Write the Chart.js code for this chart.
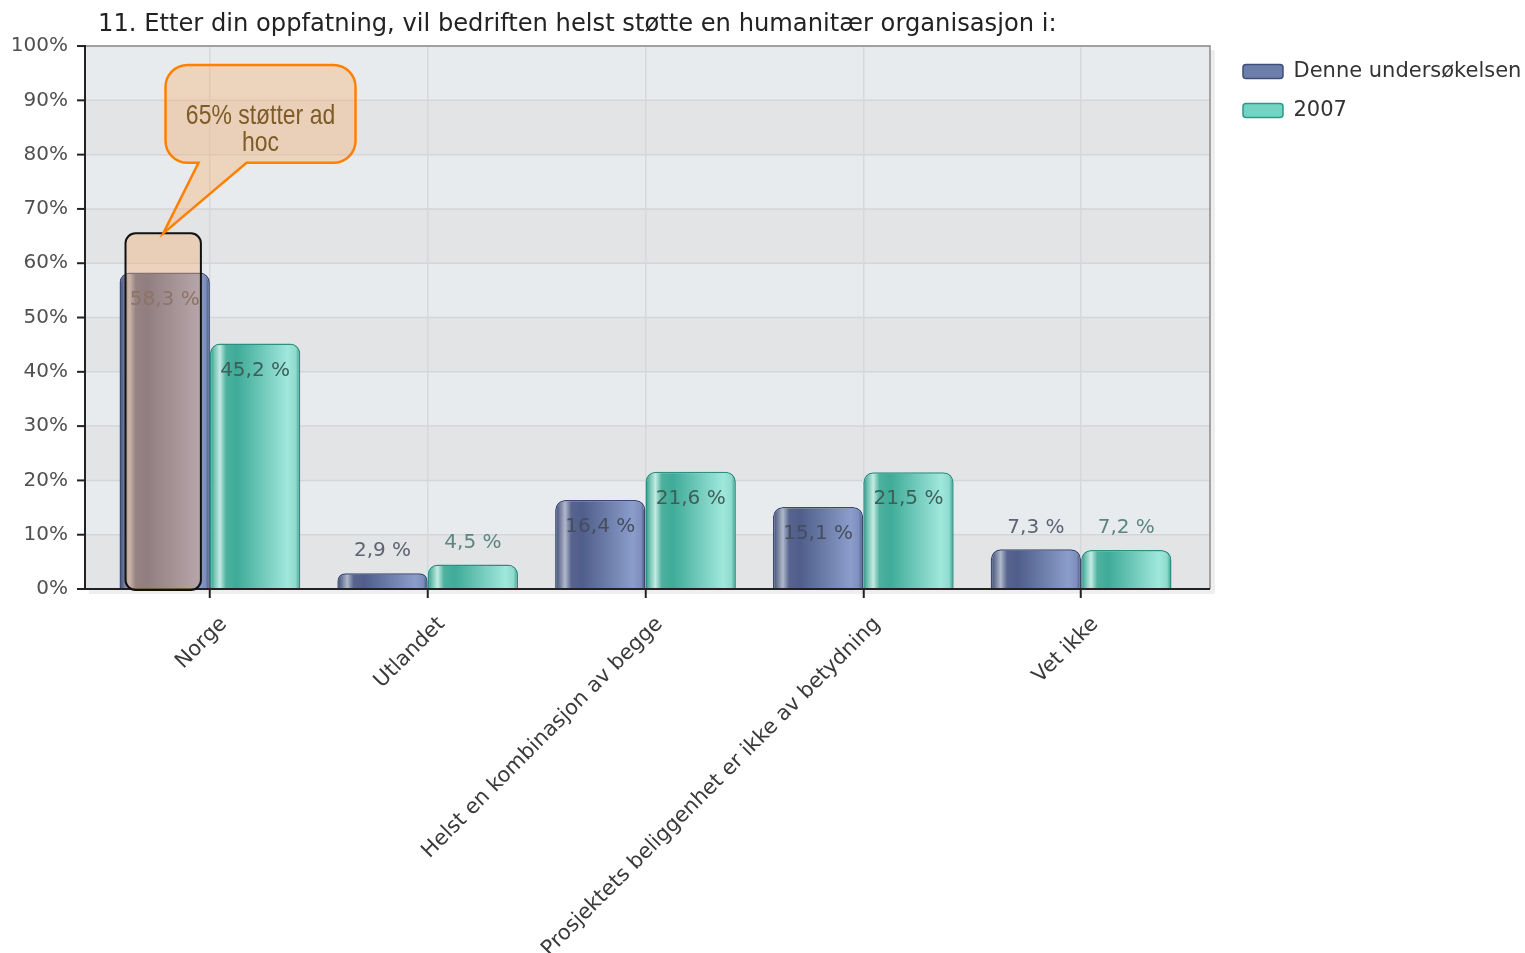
<!DOCTYPE html>
<html lang="no">
<head>
    <meta charset="UTF-8">
    <title>Humanitær organisasjon</title>
    <script src="https://cdn.jsdelivr.net/npm/chart.js"></script>
    <style>
        body {
            margin: 0;
            background: #fff;
        }
        canvas {
            display: block;
        }
    </style>
</head>
<body>
    <canvas id="myChart" width="1525" height="953"></canvas>

    <script>
        const chartTitle = '11. Etter din oppfatning, vil bedriften helst støtte en humanitær organisasjon i:';
        const categories = ['Norge', 'Utlandet', 'Helst en kombinasjon av begge', 'Prosjektets beliggenhet er ikke av betydning', 'Vet ikke'];
        const seriesNames = ['Denne undersøkelsen', '2007'];
        const thisSurvey = [58.3, 2.9, 16.4, 15.1, 7.3];
        const survey2007 = [45.2, 4.5, 21.6, 21.5, 7.2];
        const yTicks = [0, 10, 20, 30, 40, 50, 60, 70, 80, 90, 100];
        const noteLines = ['65% støtter ad', 'hoc'];
        const noteValue = 65.5;   // top of the highlight round the Norge bar

        const FONT = "'DejaVu Sans', Verdana, sans-serif";
        const CAT_PCT = 0.83;
        const legendFill = ['#6d7eaa', '#74d3c3'];
        const legendBorder = ['#3d4f7a', '#2a9a88'];

        // cylinder-like shading across each bar
        const blueStops = [[0, '#3b4a72'], [0.05, '#6f7a98'], [0.11, '#b0b8cb'], [0.18, '#58648e'],
                           [0.3, '#4f5e8a'], [0.86, '#8b9dcb'], [0.95, '#7e8fbe'], [1, '#3e4e78']];
        const greenStops = [[0, '#2b9483'], [0.05, '#74c4b4'], [0.11, '#c4ebe3'], [0.18, '#4db19e'],
                            [0.3, '#3fab98'], [0.86, '#a0e7dc'], [0.95, '#8edbce'], [1, '#2f9a88']];

        function barFill(c) {
            const chart = c.chart;
            const ds = c.datasetIndex;
            const xs = chart.scales.x;
            if (c.dataIndex === undefined || !xs || !chart.chartArea) {
                return legendFill[ds];
            }
            const catW = xs.width / categories.length;
            const barW = catW * CAT_PCT / 2;
            const cx = xs.getPixelForValue(c.dataIndex);
            const left = ds === 0 ? cx - barW : cx;
            const g = chart.ctx.createLinearGradient(left, 0, left + barW, 0);
            (ds === 0 ? blueStops : greenStops).forEach(s => g.addColorStop(s[0], s[1]));
            return g;
        }

        function roundedBox(ctx, x0, y0, x1, y1, r) {
            ctx.beginPath();
            ctx.moveTo(x0 + r, y0);
            ctx.lineTo(x1 - r, y0);
            ctx.arcTo(x1, y0, x1, y0 + r, r);
            ctx.lineTo(x1, y1 - r);
            ctx.arcTo(x1, y1, x1 - r, y1, r);
            ctx.lineTo(x0 + r, y1);
            ctx.arcTo(x0, y1, x0, y1 - r, r);
            ctx.lineTo(x0, y0 + r);
            ctx.arcTo(x0, y0, x0 + r, y0, r);
            ctx.closePath();
        }

        const plotFrame = {
            id: 'plotFrame',
            afterLayout(chart) {
                // title and legend sit a bit in from where Chart.js puts them
                if (chart.titleBlock) chart.titleBlock.left += 98;
                const lg = chart.legend;
                if (lg) {
                    const dx = 1225 - lg.left;
                    const dy = 43 - lg.top;
                    lg.left += dx; lg.right += dx;
                    lg.top += dy; lg.bottom += dy;
                }
            },
            beforeDraw(chart) {
                const {ctx, chartArea: a} = chart;
                const y = chart.scales.y;
                const L = a.left - 16, R = a.right + 20;
                ctx.save();
                ctx.fillStyle = '#fff';
                ctx.fillRect(0, 0, chart.width, chart.height);
                // shadow
                ctx.fillStyle = '#eeeeee';
                ctx.fillRect(L + 4, a.bottom, R - L, 5);
                ctx.fillRect(R, a.top + 4, 5, a.bottom - a.top);
                for (let i = 0; i < yTicks.length - 1; i++) {
                    const y0 = y.getPixelForValue(yTicks[i]);
                    const y1 = y.getPixelForValue(yTicks[i + 1]);
                    ctx.fillStyle = i % 2 ? '#e8ebee' : '#e3e4e6';
                    ctx.fillRect(L, y1, R - L, y0 - y1);
                }
                ctx.strokeStyle = '#d3d5d8';
                ctx.lineWidth = 1.5;
                yTicks.forEach(v => {
                    const py = y.getPixelForValue(v);
                    ctx.beginPath(); ctx.moveTo(L, py); ctx.lineTo(R, py); ctx.stroke();
                });
                ctx.restore();
            },
            afterDatasetsDraw(chart) {
                const {ctx, chartArea: a} = chart;
                const y = chart.scales.y;
                const L = a.left - 16, R = a.right + 20;
                ctx.save();
                // frame
                ctx.strokeStyle = '#8c8c8c';
                ctx.lineWidth = 1.5;
                ctx.beginPath();
                ctx.moveTo(L, a.top); ctx.lineTo(R, a.top); ctx.lineTo(R, a.bottom);
                ctx.stroke();
                ctx.strokeStyle = '#222';
                ctx.lineWidth = 2;
                ctx.beginPath();
                ctx.moveTo(L, a.top - 1); ctx.lineTo(L, a.bottom); ctx.lineTo(R, a.bottom);
                ctx.stroke();
                yTicks.forEach(v => {
                    const py = y.getPixelForValue(v);
                    ctx.beginPath(); ctx.moveTo(L - 8, py); ctx.lineTo(L, py); ctx.stroke();
                });

                // value labels
                ctx.font = '20px ' + FONT;
                ctx.textAlign = 'center';
                ctx.textBaseline = 'middle';
                chart.data.datasets.forEach((ds, di) => {
                    chart.getDatasetMeta(di).data.forEach((bar, i) => {
                        const v = ds.data[i];
                        const inside = v >= 10;
                        const txt = v.toFixed(1).replace('.', ',') + ' %';
                        if (di === 0) ctx.fillStyle = inside ? '#464d5f' : '#5c6374';
                        else ctx.fillStyle = inside ? '#3c5f5a' : '#5b8680';
                        ctx.fillText(txt, bar.x, inside ? bar.y + 27 : bar.y - 22);
                    });
                });

                // highlight round the Norge bar
                const nb = chart.getDatasetMeta(0).data[0];
                const hl0 = nb.x - nb.width / 2 + 6, hl1 = nb.x + nb.width / 2 - 9;
                const hlTop = y.getPixelForValue(noteValue);
                roundedBox(ctx, hl0, hlTop, hl1, a.bottom + 1, 10);
                ctx.fillStyle = 'rgba(246,176,114,0.4)';
                ctx.fill();
                ctx.strokeStyle = '#111';
                ctx.lineWidth = 2;
                ctx.stroke();

                // callout
                const bx0 = hl0 + 40, bx1 = hl0 + 230;
                const by0 = y.getPixelForValue(96.5), by1 = y.getPixelForValue(78.5);
                const r = 22;
                const tipX = (hl0 + hl1) / 2, tipY = hlTop;
                ctx.beginPath();
                ctx.moveTo(bx0 + r, by0);
                ctx.lineTo(bx1 - r, by0);
                ctx.arcTo(bx1, by0, bx1, by0 + r, r);
                ctx.lineTo(bx1, by1 - r);
                ctx.arcTo(bx1, by1, bx1 - r, by1, r);
                ctx.lineTo(bx0 + 81, by1);
                ctx.lineTo(tipX, tipY);
                ctx.lineTo(bx0 + 33, by1);
                ctx.lineTo(bx0 + r, by1);
                ctx.arcTo(bx0, by1, bx0, by1 - r, r);
                ctx.lineTo(bx0, by0 + r);
                ctx.arcTo(bx0, by0, bx0 + r, by0, r);
                ctx.closePath();
                ctx.fillStyle = 'rgba(246,178,116,0.4)';
                ctx.fill();
                ctx.strokeStyle = '#ff8000';
                ctx.lineWidth = 2.5;
                ctx.stroke();

                // narrow lettering: squeeze a regular sans horizontally
                ctx.fillStyle = '#7d5c27';
                ctx.font = "28px 'Liberation Sans', Arial, sans-serif";
                ctx.textAlign = 'center';
                ctx.textBaseline = 'alphabetic';
                const sx = 0.82;
                ctx.translate((bx0 + bx1) / 2, 0);
                ctx.scale(sx, 1);
                noteLines.forEach((line, k) => {
                    ctx.fillText(line, 0, by0 + 59 + k * 27);
                });
                ctx.restore();
            }
        };

        const ctx = document.getElementById('myChart').getContext('2d');
        new Chart(ctx, {
            type: 'bar',
            data: {
                labels: categories,
                datasets: [{
                    label: seriesNames[0],
                    data: thisSurvey,
                    backgroundColor: barFill,
                    borderColor: '#3a4a75'
                }, {
                    label: seriesNames[1],
                    data: survey2007,
                    backgroundColor: barFill,
                    borderColor: '#2a9080'
                }]
            },
            options: {
                responsive: false,
                animation: false,
                events: [],
                datasets: {
                    bar: {
                        categoryPercentage: CAT_PCT,
                        barPercentage: 1,
                        borderWidth: 1.5,
                        borderRadius: {topLeft: 10, topRight: 10, bottomLeft: 0, bottomRight: 0},
                        borderSkipped: 'bottom'
                    }
                },
                layout: {
                    padding: {top: 0, left: 0, right: 35, bottom: 0}
                },
                scales: {
                    x: {
                        grid: {
                            offset: false,
                            color: '#d6d8db',
                            lineWidth: 1.5,
                            tickColor: '#222',
                            tickWidth: 2,
                            tickLength: 9
                        },
                        border: {display: false},
                        ticks: {
                            autoSkip: false,
                            minRotation: 45,
                            maxRotation: 45,
                            labelOffset: 14,
                            padding: 14,
                            color: '#3a3a3a',
                            font: {family: FONT, size: 21}
                        },
                        afterFit: s => { s.height = 364; }
                    },
                    y: {
                        min: 0,
                        max: 100,
                        afterBuildTicks: s => { s.ticks = yTicks.map(v => ({value: v})); },
                        grid: {display: false, drawTicks: false},
                        border: {display: false},
                        ticks: {
                            padding: 33,
                            color: '#505050',
                            font: {family: FONT, size: 20},
                            callback: v => v + '%'
                        },
                        afterFit: s => { s.width = 101; }
                    }
                },
                plugins: {
                    title: {
                        display: true,
                        text: chartTitle,
                        align: 'start',
                        color: '#222',
                        font: {family: FONT, size: 24.2, weight: 'normal'},
                        padding: {top: 10.4, bottom: 6.6}
                    },
                    legend: {
                        position: 'right',
                        align: 'start',
                        maxWidth: 300,
                        labels: {
                            boxWidth: 40,
                            boxHeight: 14,
                            padding: 18,
                            useBorderRadius: true,
                            borderRadius: 3,
                            color: '#333',
                            font: {family: FONT, size: 21},
                            generateLabels(chart) {
                                const items = Chart.defaults.plugins.legend.labels.generateLabels(chart);
                                items.forEach((it, i) => {
                                    it.fillStyle = legendFill[i];
                                    it.strokeStyle = legendBorder[i];
                                    it.lineWidth = 1.5;
                                });
                                return items;
                            }
                        }
                    },
                    tooltip: {enabled: false}
                }
            },
            plugins: [plotFrame]
        });
    </script>
</body>
</html>
